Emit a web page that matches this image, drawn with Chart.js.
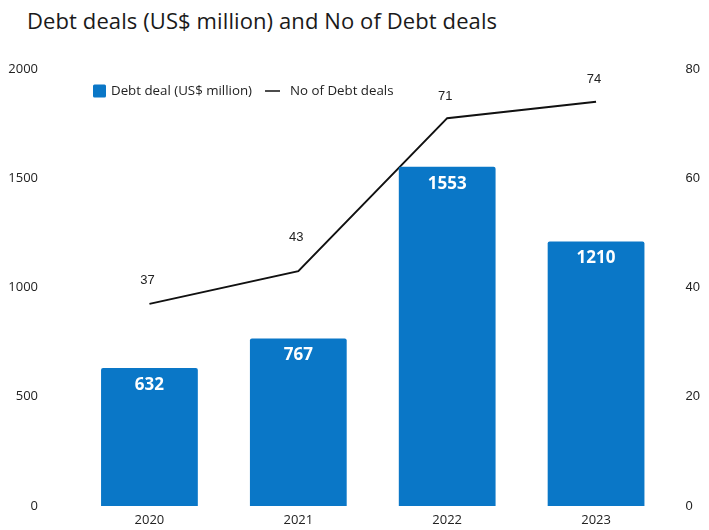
<!DOCTYPE html>
<html>
<head>
<meta charset="utf-8">
<script src="https://cdn.jsdelivr.net/npm/chart.js@4.4.1/dist/chart.umd.min.js"></script>
<style>
  html, body { margin: 0; padding: 0; background: #ffffff; }
  #wrap { position: relative; width: 709px; height: 530px; }
  #title {
    position: absolute; left: 27px; top: 5px;
    font-family: "Open Sans", sans-serif; font-size: 22px; color: #1a1a1a;
    white-space: nowrap; letter-spacing: 0.1px;
  }
  canvas { position: absolute; left: 0; top: 0; }
</style>
</head>
<body>
<div id="wrap">
  <div id="title">Debt deals (US$ million) and No of Debt deals</div>
  <canvas id="c" width="709" height="530"></canvas>
</div>
<script>
// Chart data
const years = ['2020', '2021', '2022', '2023'];
const debtValue = [632, 767, 1553, 1210];   // US$ million
const debtCount = [37, 43, 71, 74];         // number of deals
const valueTicks = [0, 500, 1000, 1500, 2000];
const countTicks = [0, 20, 40, 60, 80];

const seriesNames = ['Debt deal (US$ million)', 'No of Debt deals'];
const BLUE = '#0A77C7';
const MAIN_FONT = '"Open Sans", sans-serif';
const LABEL_FONT = '"Liberation Sans", Arial, sans-serif';

// Value labels: white inside bar tops, dark above line points
const valueLabels = {
  id: 'valueLabels',
  afterDatasetsDraw(chart) {
    const ctx = chart.ctx;
    ctx.save();
    ctx.textAlign = 'center';
    ctx.textBaseline = 'middle';
    const barMeta = chart.getDatasetMeta(0);
    ctx.font = 'bold 17px ' + MAIN_FONT;
    ctx.fillStyle = '#ffffff';
    barMeta.data.forEach((bar, i) => {
      ctx.fillText(String(debtValue[i]), bar.x, bar.y + 17);
    });
    const lineMeta = chart.getDatasetMeta(1);
    const lift = [23, 34, 22, 22];
    ctx.font = '13px ' + LABEL_FONT;
    ctx.fillStyle = '#222222';
    lineMeta.data.forEach((pt, i) => {
      ctx.fillText(String(debtCount[i]), pt.x - 2, pt.y - lift[i]);
    });
    ctx.restore();
  }
};

// Legend drawn inside the top-left of the plot area
const innerLegend = {
  id: 'innerLegend',
  afterDraw(chart) {
    const ctx = chart.ctx;
    const area = chart.chartArea;
    const y = area.top + 22;
    let x = area.left + 18;
    ctx.save();
    ctx.font = '13.3px ' + MAIN_FONT;
    ctx.textBaseline = 'middle';
    ctx.textAlign = 'left';
    // bar swatch
    ctx.fillStyle = BLUE;
    ctx.beginPath();
    ctx.roundRect(x, y - 6.5, 13, 13, 1.5);
    ctx.fill();
    x += 18;
    ctx.fillStyle = '#222222';
    ctx.fillText(seriesNames[0], x, y);
    x += ctx.measureText(seriesNames[0]).width + 13;
    // line swatch
    ctx.strokeStyle = '#111111';
    ctx.lineWidth = 1.5;
    ctx.beginPath();
    ctx.moveTo(x, y);
    ctx.lineTo(x + 15, y);
    ctx.stroke();
    x += 25;
    ctx.fillText(seriesNames[1], x, y);
    ctx.restore();
  }
};

// Vertical axes: fixed width, no extra top/bottom padding around the plot
function fixVertical(width) {
  return function (s) {
    s.width = width;
    s.paddingTop = 0;
    s.paddingBottom = 0;
  };
}

new Chart(document.getElementById('c'), {
  data: {
    labels: years,
    datasets: [
      {
        type: 'bar',
        label: seriesNames[0],
        data: debtValue,
        yAxisID: 'y',
        backgroundColor: BLUE,
        borderRadius: 2,
        categoryPercentage: 1,
        barPercentage: 0.65,
        order: 1
      },
      {
        type: 'line',
        label: seriesNames[1],
        data: debtCount,
        yAxisID: 'y1',
        borderColor: '#111111',
        borderWidth: 2,
        pointRadius: 0,
        tension: 0,
        fill: false,
        order: 2
      }
    ]
  },
  options: {
    responsive: false,
    animation: false,
    devicePixelRatio: 1,
    layout: { padding: { top: 69, left: 0, right: 0, bottom: 0 } },
    plugins: {
      legend: { display: false },
      title: { display: false },
      tooltip: { enabled: false }
    },
    scales: {
      x: {
        grid: { display: false, drawTicks: false },
        border: { display: false },
        ticks: { color: '#222222', font: { family: MAIN_FONT, size: 13 }, padding: 6 },
        afterFit(s) { s.height = 24; }
      },
      y: {
        position: 'left',
        min: 0, max: 2000,
        grid: { display: false, drawTicks: false },
        border: { display: false },
        afterBuildTicks(s) { s.ticks = valueTicks.map(v => ({ value: v })); },
        ticks: {
          color: '#222222', font: { family: MAIN_FONT, size: 13 }, padding: 37,
          callback: v => String(v)
        },
        afterFit: fixVertical(75)
      },
      y1: {
        position: 'right',
        min: 0, max: 80,
        grid: { display: false, drawTicks: false },
        border: { display: false },
        afterBuildTicks(s) { s.ticks = countTicks.map(v => ({ value: v })); },
        ticks: {
          color: '#222222', font: { family: LABEL_FONT, size: 13 }, padding: 15,
          callback: v => String(v)
        },
        afterFit: fixVertical(38.5)
      }
    }
  },
  plugins: [valueLabels, innerLegend]
});
</script>
</body>
</html>
